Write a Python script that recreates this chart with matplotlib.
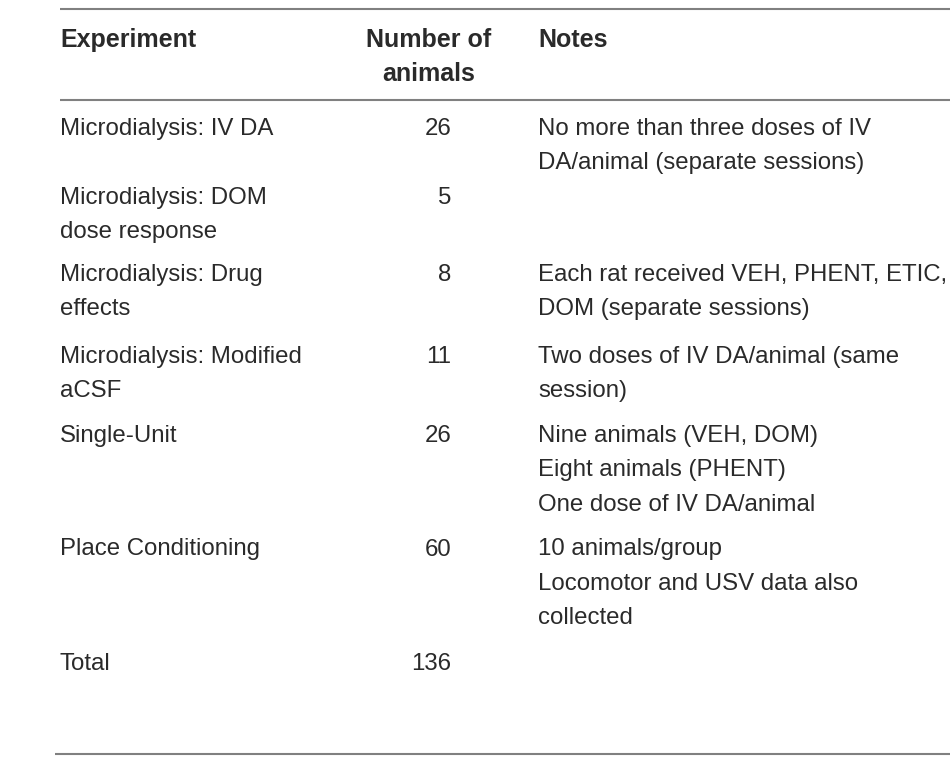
# Tabla de experimentos: número de animales y notas
import matplotlib
matplotlib.use("Agg")
import matplotlib.pyplot as plt

# Datos de la tabla
experimentos = [
    "Microdialysis: IV DA",
    "Microdialysis: DOM\ndose response",
    "Microdialysis: Drug\neffects",
    "Microdialysis: Modified\naCSF",
    "Single-Unit",
    "Place Conditioning",
    "Total",
]
num_animales = [26, 5, 8, 11, 26, 60, 136]
notas = [
    "No more than three doses of IV\nDA/animal (separate sessions)",
    "",
    "Each rat received VEH, PHENT, ETIC,\nDOM (separate sessions)",
    "Two doses of IV DA/animal (same\nsession)",
    "Nine animals (VEH, DOM)\nEight animals (PHENT)\nOne dose of IV DA/animal",
    "10 animals/group\nLocomotor and USV data also\ncollected",
    "",
]
encabezados = ["Experiment", "Number of\nanimals", "Notes"]

# Diseño (en píxeles)
W, H = 950, 784
x_exp, x_num, x_num_head, x_notas = 60, 451, 429, 538
y_filas = [126, 195, 272, 354, 433, 547, 661]
y_head = 37
interlineado = 34.5
fs = 17.3
fs_head = 18.0
color_txt = "#2a2a2a"
color_linea = "#808080"

fig = plt.figure(figsize=(W / 100, H / 100), dpi=100)
ax = fig.add_axes([0, 0, 1, 1])
ax.set_xlim(0, W)
ax.set_ylim(H, 0)
ax.axis("off")

familia = ["Liberation Sans", "DejaVu Sans"]

def texto(x, y, s, ha="left", bold=False):
    # Dibuja cada línea por separado para controlar el interlineado
    for i, linea in enumerate(s.split("\n")):
        ax.text(x, y + i * interlineado, linea, ha=ha, va="center_baseline",
                family=familia, color=color_txt,
                fontsize=fs_head if bold else fs,
                fontweight="bold" if bold else "normal")

# Encabezados
texto(x_exp, y_head, encabezados[0], bold=True)
texto(x_num_head, y_head, encabezados[1], ha="center", bold=True)
texto(x_notas, y_head, encabezados[2], bold=True)

# Filas
for y, e, n, nt in zip(y_filas, experimentos, num_animales, notas):
    texto(x_exp, y, e)
    texto(x_num, y, str(n), ha="right")
    if nt:
        texto(x_notas, y, nt)

# Líneas horizontales
ax.plot([60, W], [8.5, 8.5], color=color_linea, lw=1.5, solid_capstyle="butt")
ax.plot([60, W], [99.5, 99.5], color=color_linea, lw=1.5, solid_capstyle="butt")
ax.plot([55, W], [753.5, 753.5], color=color_linea, lw=1.5, solid_capstyle="butt")

fig.savefig("out.png", dpi=100)
